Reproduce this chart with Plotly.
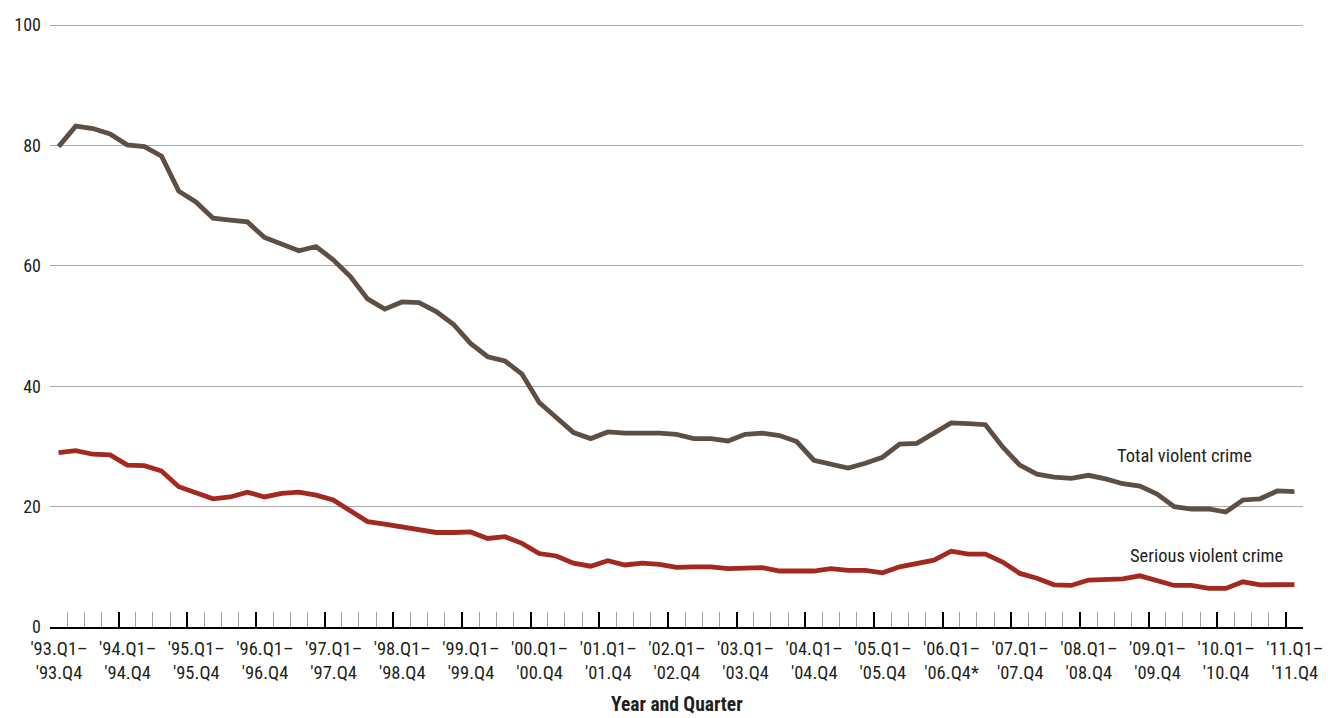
import plotly.graph_objects as go

# Rolling four-quarter periods, from '93.Q1–'93.Q4 to '11.Q1–'11.Q4 (73 points)
year_labels = ["'93.Q1–<br>'93.Q4", "'94.Q1–<br>'94.Q4", "'95.Q1–<br>'95.Q4", "'96.Q1–<br>'96.Q4",
               "'97.Q1–<br>'97.Q4", "'98.Q1–<br>'98.Q4", "'99.Q1–<br>'99.Q4", "'00.Q1–<br>'00.Q4",
               "'01.Q1–<br>'01.Q4", "'02.Q1–<br>'02.Q4", "'03.Q1–<br>'03.Q4", "'04.Q1–<br>'04.Q4",
               "'05.Q1–<br>'05.Q4", "'06.Q1–<br>'06.Q4*", "'07.Q1–<br>'07.Q4", "'08.Q1–<br>'08.Q4",
               "'09.Q1–<br>'09.Q4", "'10.Q1–<br>'10.Q4", "'11.Q1–<br>'11.Q4"]

total_violent = [79.8, 83.2, 82.8, 81.9, 80.1, 79.8, 78.2, 72.4, 70.6, 67.9,
                 67.6, 67.3, 64.7, 63.7, 62.5, 63.2, 61.0, 58.2, 54.5, 52.8,
                 54.0, 53.9, 52.4, 50.3, 47.1, 44.9, 44.2, 42.0, 37.3, 34.8,
                 32.3, 31.3, 32.4, 32.2, 32.3, 32.2, 32.0, 31.3, 31.3, 30.9,
                 32.0, 32.2, 31.8, 30.8, 27.7, 27.0, 26.4, 27.2, 28.2, 30.4,
                 30.5, 32.2, 33.9, 33.8, 33.6, 29.9, 26.9, 25.4, 24.9, 24.7,
                 25.2, 24.6, 23.8, 23.4, 22.1, 20.0, 19.6, 19.6, 19.1, 21.1,
                 21.3, 22.6, 22.5]

serious_violent = [28.95, 29.3, 28.7, 28.6, 26.9, 26.8, 25.9, 23.3, 22.3, 21.3,
                   21.6, 22.4, 21.6, 22.2, 22.4, 21.9, 21.1, 19.4, 17.5, 17.1,
                   16.6, 16.2, 15.7, 15.7, 15.8, 14.7, 15.0, 13.9, 12.2, 11.8,
                   10.6, 10.1, 11.0, 10.3, 10.6, 10.4, 9.9, 10.0, 10.0, 9.7,
                   9.85, 9.85, 9.3, 9.4, 9.3, 9.7, 9.4, 9.4, 9.0, 10.0,
                   10.5, 11.1, 12.6, 12.1, 12.1, 10.8, 8.9, 8.1, 7.0, 6.9,
                   7.8, 7.8, 8.0, 8.5, 7.7, 6.9, 6.9, 6.4, 6.4, 7.5,
                   7.0, 7.1, 7.05]

y_ticks = [0, 20, 40, 60, 80, 100]

n = len(total_violent)
x = [i + 0.5 for i in range(n)]
major_ticks = [4 * k for k in range(len(year_labels))]
minor_ticks = [i for i in range(n) if i % 4 != 0]

FONT = "Roboto Condensed, DejaVu Sans Condensed, sans-serif"
TXT = "#231f20"

fig = go.Figure()
fig.add_trace(go.Scatter(x=x, y=total_violent, mode="lines", name="Total violent crime",
                         line=dict(color="#5e4f44", width=4.8)))
fig.add_trace(go.Scatter(x=x, y=serious_violent, mode="lines", name="Serious violent crime",
                         line=dict(color="#a3291f", width=4.8)))

fig.update_layout(
    width=1332, height=718,
    margin=dict(l=50, r=29, t=22, b=91),
    paper_bgcolor="white", plot_bgcolor="white",
    showlegend=False,
    font=dict(family=FONT, size=18, color=TXT),
    xaxis=dict(
        range=[0, n],
        automargin=False,
        tickmode="array", tickvals=major_ticks, ticktext=year_labels,
        ticks="inside", ticklen=15, tickwidth=2.2, tickcolor="black",
        ticklabelshift=9, ticklabelstandoff=4,
        showline=True, linecolor="black", linewidth=2.2,
        showgrid=False, zeroline=False,
        tickfont=dict(family=FONT, size=18.5, color=TXT),
        minor=dict(tickmode="array", tickvals=minor_ticks, ticks="inside",
                   ticklen=15, tickwidth=1, tickcolor="#a0a0a0", showgrid=False),
        fixedrange=True,
    ),
    yaxis=dict(
        range=[0, 100.5],
        automargin=False,
        tickmode="array", tickvals=y_ticks,
        showgrid=True, gridcolor="#aaaaaa", gridwidth=1.2,
        zeroline=False, showline=False, ticks="",
        tickfont=dict(family=FONT, size=18, color=TXT),
        ticklabelstandoff=8,
        fixedrange=True,
    ),
)

fig.add_annotation(x=66.1, y=28.4, xref="x", yref="y", text="Total violent crime",
                   showarrow=False, font=dict(family=FONT, size=18.5, color=TXT))
fig.add_annotation(x=67.4, y=11.8, xref="x", yref="y", text="Serious violent crime",
                   showarrow=False, font=dict(family=FONT, size=18.5, color=TXT))
fig.add_annotation(x=0.5, y=-0.128, xref="paper", yref="paper", yanchor="middle",
                   text="<b>Year and Quarter</b>", showarrow=False,
                   font=dict(family=FONT, size=19.5, color=TXT))

fig.write_html("out.html", config={"displayModeBar": False},
               post_script="document.body.style.margin='0';document.body.style.overflow='hidden';")
